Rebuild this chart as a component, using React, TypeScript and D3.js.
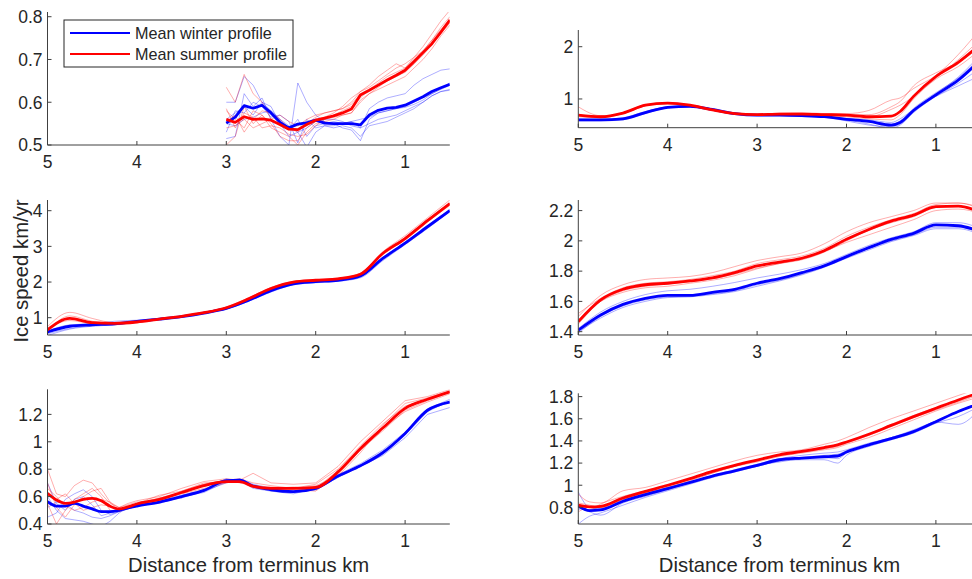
import React from 'react';
import * as d3 from 'd3';

// ---------- Data ----------
const xTicks = [5, 4, 3, 2, 1];

// Panel A (top-left)
const distA = [3.0, 2.9, 2.8, 2.7, 2.6, 2.5, 2.4, 2.3, 2.2, 2.1, 2.0, 1.9, 1.8, 1.7, 1.6, 1.5, 1.4, 1.3, 1.2, 1.1, 1.0, 0.9, 0.8, 0.7, 0.6, 0.5];
const winterA = [0.551, 0.565, 0.592, 0.586, 0.593, 0.575, 0.553, 0.540, 0.549, 0.552, 0.558, 0.551, 0.550, 0.550, 0.550, 0.547, 0.570, 0.581, 0.586, 0.588, 0.593, 0.603, 0.613, 0.625, 0.634, 0.642];
const summerA = [0.560, 0.553, 0.566, 0.560, 0.561, 0.558, 0.548, 0.537, 0.536, 0.548, 0.558, 0.563, 0.568, 0.575, 0.584, 0.617, 0.628, 0.640, 0.652, 0.663, 0.675, 0.695, 0.716, 0.737, 0.764, 0.792];
const thinWinterA = [
  [0.600, 0.600, 0.660, 0.640, 0.600, 0.580, 0.560, 0.545, 0.530, 0.540, 0.555, 0.560, 0.560, 0.555, 0.545, 0.540, 0.585, 0.600, 0.610, 0.615, 0.620, 0.640, 0.655, 0.665, 0.675, 0.678],
  [0.515, 0.520, 0.620, 0.590, 0.610, 0.560, 0.520, 0.500, 0.645, 0.600, 0.570, 0.555, 0.550, 0.540, 0.535, 0.510, 0.560, 0.575, 0.580, 0.585, 0.588, 0.595, 0.605, 0.620, 0.630, 0.640],
  [0.530, 0.580, 0.575, 0.600, 0.590, 0.565, 0.570, 0.555, 0.505, 0.560, 0.540, 0.545, 0.545, 0.550, 0.555, 0.540, 0.550, 0.560, 0.565, 0.570, 0.580, 0.590, 0.600, 0.615, 0.625, 0.630],
  [0.560, 0.575, 0.590, 0.570, 0.600, 0.590, 0.550, 0.520, 0.530, 0.495, 0.530, 0.545, 0.540, 0.545, 0.540, 0.520, 0.545, 0.550, 0.555, 0.565, 0.575, 0.585, 0.600, 0.615, 0.625, 0.628],
  [0.550, 0.545, 0.560, 0.565, 0.575, 0.580, 0.560, 0.535, 0.560, 0.520, 0.545, 0.550, 0.555, 0.550, 0.555, 0.560, 0.565, 0.575, 0.580, 0.585, 0.590, 0.600, 0.610, 0.620, 0.632, 0.645],
];
const thinSummerA = [
  [0.635, 0.600, 0.665, 0.620, 0.600, 0.560, 0.545, 0.540, 0.530, 0.550, 0.565, 0.575, 0.580, 0.585, 0.600, 0.625, 0.640, 0.660, 0.675, 0.690, 0.680, 0.705, 0.730, 0.760, 0.790, 0.815],
  [0.580, 0.560, 0.540, 0.580, 0.570, 0.550, 0.520, 0.510, 0.510, 0.540, 0.555, 0.560, 0.570, 0.580, 0.590, 0.610, 0.630, 0.645, 0.660, 0.670, 0.680, 0.700, 0.720, 0.745, 0.770, 0.795],
  [0.500, 0.520, 0.590, 0.550, 0.570, 0.540, 0.530, 0.520, 0.500, 0.530, 0.550, 0.555, 0.560, 0.570, 0.575, 0.600, 0.620, 0.630, 0.640, 0.650, 0.660, 0.680, 0.700, 0.725, 0.755, 0.780],
  [0.555, 0.570, 0.530, 0.560, 0.580, 0.575, 0.560, 0.540, 0.545, 0.560, 0.570, 0.575, 0.580, 0.585, 0.595, 0.620, 0.630, 0.640, 0.650, 0.660, 0.670, 0.690, 0.715, 0.735, 0.760, 0.785],
  [0.540, 0.545, 0.560, 0.540, 0.550, 0.560, 0.570, 0.555, 0.545, 0.555, 0.560, 0.565, 0.575, 0.590, 0.610, 0.625, 0.635, 0.650, 0.665, 0.680, 0.690, 0.705, 0.720, 0.745, 0.775, 0.800],
  [0.585, 0.540, 0.575, 0.565, 0.540, 0.545, 0.540, 0.525, 0.520, 0.525, 0.545, 0.560, 0.565, 0.570, 0.575, 0.605, 0.620, 0.635, 0.650, 0.660, 0.672, 0.690, 0.710, 0.735, 0.762, 0.790],
];

// Shared quarter-km grid
const distQ = [5, 4.75, 4.5, 4.25, 4, 3.75, 3.5, 3.25, 3, 2.75, 2.5, 2.25, 2, 1.75, 1.5, 1.25, 1, 0.75, 0.5];

// Panel B (top-right)
const distB = [5, 4.75, 4.5, 4.25, 4, 3.75, 3.5, 3.25, 3, 2.75, 2.5, 2.25, 2, 1.75, 1.5, 1.4, 1.25, 1, 0.75, 0.5];
const winterB = [0.60, 0.60, 0.62, 0.74, 0.84, 0.86, 0.80, 0.72, 0.69, 0.69, 0.68, 0.66, 0.61, 0.57, 0.50, 0.55, 0.78, 1.08, 1.36, 1.75];
const summerB = [0.69, 0.66, 0.73, 0.88, 0.92, 0.88, 0.79, 0.72, 0.70, 0.71, 0.71, 0.70, 0.69, 0.66, 0.67, 0.76, 1.05, 1.43, 1.70, 2.05];
const thinWinterB = [
  [0.58, 0.58, 0.60, 0.72, 0.83, 0.85, 0.80, 0.72, 0.69, 0.69, 0.68, 0.65, 0.60, 0.52, 0.44, 0.50, 0.74, 1.05, 1.30, 1.60],
  [0.62, 0.61, 0.64, 0.76, 0.85, 0.87, 0.81, 0.73, 0.70, 0.70, 0.68, 0.67, 0.62, 0.58, 0.52, 0.58, 0.82, 1.12, 1.40, 1.80],
  [0.60, 0.59, 0.61, 0.73, 0.84, 0.86, 0.80, 0.72, 0.69, 0.69, 0.68, 0.66, 0.63, 0.60, 0.55, 0.62, 0.80, 1.05, 1.25, 1.45],
  [0.59, 0.60, 0.63, 0.75, 0.85, 0.86, 0.79, 0.71, 0.68, 0.68, 0.67, 0.65, 0.58, 0.50, 0.47, 0.52, 0.76, 1.10, 1.42, 1.85],
];
const thinSummerB = [
  [0.85, 0.68, 0.72, 0.87, 0.92, 0.89, 0.80, 0.73, 0.71, 0.73, 0.74, 0.72, 0.72, 0.78, 0.98, 1.02, 1.20, 1.45, 1.85, 2.35],
  [0.70, 0.65, 0.74, 0.89, 0.93, 0.88, 0.79, 0.72, 0.70, 0.71, 0.71, 0.70, 0.68, 0.66, 0.80, 0.88, 1.05, 1.40, 1.75, 2.15],
  [0.66, 0.64, 0.72, 0.87, 0.91, 0.87, 0.78, 0.71, 0.69, 0.70, 0.70, 0.69, 0.66, 0.62, 0.60, 0.70, 1.00, 1.38, 1.62, 1.95],
  [0.68, 0.67, 0.73, 0.88, 0.92, 0.88, 0.79, 0.72, 0.70, 0.71, 0.72, 0.71, 0.70, 0.70, 0.85, 0.95, 1.25, 1.50, 1.70, 2.00],
];

// Panel C (middle-left)
const winterC = [0.60, 0.76, 0.80, 0.83, 0.90, 0.96, 1.03, 1.13, 1.26, 1.49, 1.76, 1.95, 2.01, 2.05, 2.17, 2.66, 3.09, 3.55, 4.00];
const summerC = [0.66, 0.98, 0.86, 0.84, 0.88, 0.96, 1.04, 1.14, 1.28, 1.53, 1.82, 2.00, 2.05, 2.09, 2.22, 2.80, 3.22, 3.72, 4.20];
const thinWinterC = [
  [0.55, 0.70, 0.78, 0.82, 0.92, 0.97, 1.02, 1.12, 1.24, 1.46, 1.72, 1.92, 1.98, 2.02, 2.12, 2.60, 3.05, 3.50, 3.98],
  [0.62, 0.80, 0.83, 0.90, 0.93, 0.95, 1.03, 1.14, 1.27, 1.50, 1.78, 1.96, 2.02, 2.06, 2.18, 2.68, 3.12, 3.58, 4.04],
  [0.50, 0.68, 0.76, 0.80, 0.88, 0.96, 1.04, 1.13, 1.25, 1.48, 1.75, 1.94, 2.00, 2.04, 2.15, 2.64, 3.10, 3.54, 4.02],
];
const thinSummerC = [
  [0.75, 1.15, 0.98, 0.86, 0.88, 0.97, 1.05, 1.15, 1.30, 1.56, 1.85, 2.02, 2.07, 2.11, 2.25, 2.85, 3.30, 3.80, 4.30],
  [0.62, 1.05, 0.90, 0.84, 0.87, 0.95, 1.03, 1.13, 1.26, 1.51, 1.80, 1.98, 2.04, 2.08, 2.20, 2.78, 3.18, 3.68, 4.15],
  [0.70, 0.92, 0.83, 0.80, 0.88, 0.96, 1.04, 1.14, 1.28, 1.55, 1.84, 2.01, 2.06, 2.10, 2.24, 2.82, 3.25, 3.75, 4.22],
];

// Panel D (middle-right)
const winterD = [1.41, 1.51, 1.58, 1.62, 1.64, 1.64, 1.66, 1.68, 1.72, 1.75, 1.79, 1.835, 1.896, 1.955, 2.01, 2.05, 2.105, 2.10, 2.06];
const summerD = [1.466, 1.61, 1.68, 1.71, 1.72, 1.735, 1.755, 1.79, 1.834, 1.86, 1.885, 1.935, 2.01, 2.075, 2.13, 2.17, 2.226, 2.23, 2.19];
const thinWinterD = [
  [1.42, 1.53, 1.60, 1.645, 1.67, 1.68, 1.70, 1.725, 1.755, 1.78, 1.81, 1.85, 1.91, 1.97, 2.02, 2.06, 2.12, 2.12, 2.08],
  [1.39, 1.50, 1.57, 1.61, 1.63, 1.635, 1.65, 1.67, 1.71, 1.74, 1.78, 1.83, 1.89, 1.95, 2.00, 2.04, 2.09, 2.09, 2.05],
  [1.40, 1.49, 1.56, 1.60, 1.625, 1.63, 1.645, 1.665, 1.70, 1.735, 1.775, 1.825, 1.885, 1.94, 1.995, 2.035, 2.08, 2.08, 2.04],
];
const thinSummerD = [
  [1.50, 1.64, 1.71, 1.745, 1.755, 1.765, 1.79, 1.83, 1.87, 1.895, 1.92, 1.98, 2.06, 2.12, 2.16, 2.20, 2.25, 2.25, 2.21],
  [1.45, 1.60, 1.67, 1.70, 1.715, 1.73, 1.75, 1.78, 1.82, 1.85, 1.875, 1.925, 2.00, 2.07, 2.12, 2.16, 2.22, 2.23, 2.19],
  [1.48, 1.60, 1.66, 1.69, 1.70, 1.72, 1.74, 1.77, 1.815, 1.85, 1.88, 1.93, 1.99, 2.04, 2.09, 2.14, 2.20, 2.21, 2.18],
  [1.52, 1.62, 1.69, 1.72, 1.73, 1.745, 1.77, 1.80, 1.85, 1.875, 1.90, 1.95, 2.03, 2.09, 2.14, 2.18, 2.24, 2.25, 2.22],
];

// Panel E (bottom-left)
const distE = [5, 4.9, 4.8, 4.7, 4.6, 4.5, 4.4, 4.3, 4.2, 4.1, 4.0, 3.75, 3.5, 3.25, 3.0, 2.85, 2.7, 2.5, 2.25, 2.0, 1.75, 1.5, 1.25, 1.0, 0.75, 0.5];
const winterE = [0.563, 0.531, 0.531, 0.55, 0.531, 0.51, 0.49, 0.49, 0.50, 0.517, 0.531, 0.56, 0.60, 0.645, 0.716, 0.72, 0.677, 0.65, 0.636, 0.66, 0.75, 0.825, 0.92, 1.061, 1.23, 1.29];
const summerE = [0.624, 0.575, 0.551, 0.56, 0.58, 0.587, 0.57, 0.53, 0.51, 0.525, 0.546, 0.58, 0.63, 0.68, 0.709, 0.709, 0.675, 0.66, 0.66, 0.667, 0.78, 0.95, 1.10, 1.244, 1.31, 1.365];
const thinWinterE = [
  [0.70, 0.55, 0.50, 0.58, 0.60, 0.54, 0.46, 0.48, 0.50, 0.52, 0.54, 0.57, 0.61, 0.65, 0.73, 0.71, 0.68, 0.65, 0.63, 0.65, 0.74, 0.82, 0.92, 1.05, 1.22, 1.30],
  [0.45, 0.48, 0.58, 0.62, 0.65, 0.60, 0.50, 0.47, 0.49, 0.51, 0.53, 0.56, 0.59, 0.64, 0.70, 0.72, 0.66, 0.64, 0.62, 0.66, 0.76, 0.84, 0.94, 1.07, 1.24, 1.31],
  [0.60, 0.50, 0.44, 0.43, 0.42, 0.40, 0.38, 0.42, 0.48, 0.52, 0.54, 0.55, 0.60, 0.63, 0.71, 0.73, 0.69, 0.66, 0.64, 0.67, 0.75, 0.82, 0.90, 1.03, 1.20, 1.25],
  [0.52, 0.56, 0.55, 0.50, 0.48, 0.45, 0.44, 0.46, 0.49, 0.51, 0.53, 0.56, 0.60, 0.64, 0.72, 0.71, 0.68, 0.65, 0.63, 0.65, 0.74, 0.83, 0.93, 1.06, 1.23, 1.29],
];
const thinSummerE = [
  [0.80, 0.62, 0.60, 0.68, 0.72, 0.70, 0.62, 0.55, 0.52, 0.55, 0.57, 0.60, 0.66, 0.71, 0.73, 0.72, 0.77, 0.70, 0.69, 0.70, 0.82, 1.00, 1.15, 1.30, 1.33, 1.38],
  [0.55, 0.40, 0.50, 0.58, 0.62, 0.66, 0.60, 0.50, 0.49, 0.52, 0.55, 0.59, 0.63, 0.69, 0.72, 0.70, 0.68, 0.67, 0.66, 0.68, 0.75, 0.92, 1.12, 1.28, 1.32, 1.37],
  [0.66, 0.60, 0.53, 0.50, 0.52, 0.56, 0.58, 0.56, 0.52, 0.54, 0.56, 0.57, 0.64, 0.70, 0.71, 0.71, 0.68, 0.66, 0.67, 0.66, 0.79, 0.96, 1.10, 1.22, 1.29, 1.35],
  [0.62, 0.58, 0.62, 0.55, 0.50, 0.52, 0.54, 0.53, 0.51, 0.53, 0.54, 0.58, 0.62, 0.66, 0.70, 0.72, 0.67, 0.65, 0.65, 0.64, 0.76, 0.94, 1.08, 1.23, 1.30, 1.36],
  [0.70, 0.52, 0.45, 0.54, 0.60, 0.64, 0.66, 0.56, 0.50, 0.52, 0.55, 0.61, 0.64, 0.69, 0.72, 0.73, 0.70, 0.68, 0.66, 0.69, 0.80, 0.97, 1.13, 1.26, 1.31, 1.37],
];

// Panel F (bottom-right)
const distF = [5, 4.875, 4.75, 4.5, 4.25, 4.0, 3.75, 3.5, 3.25, 3.0, 2.75, 2.5, 2.25, 2.1, 2.0, 1.75, 1.5, 1.25, 1.0, 0.75, 0.5];
const winterF = [0.812, 0.77, 0.777, 0.855, 0.915, 0.97, 1.025, 1.083, 1.13, 1.18, 1.23, 1.245, 1.257, 1.264, 1.30, 1.365, 1.42, 1.484, 1.574, 1.665, 1.74];
const summerF = [0.82, 0.805, 0.81, 0.885, 0.945, 1.0, 1.06, 1.125, 1.18, 1.227, 1.275, 1.305, 1.34, 1.365, 1.39, 1.46, 1.54, 1.619, 1.695, 1.77, 1.84];
const thinWinterF = [
  [0.94, 0.80, 0.79, 0.87, 0.93, 0.98, 1.03, 1.09, 1.14, 1.19, 1.24, 1.27, 1.29, 1.30, 1.32, 1.38, 1.43, 1.50, 1.58, 1.66, 1.75],
  [0.65, 0.72, 0.75, 0.82, 0.89, 0.95, 1.01, 1.07, 1.12, 1.17, 1.22, 1.23, 1.23, 1.20, 1.27, 1.35, 1.41, 1.47, 1.56, 1.62, 1.72],
  [0.80, 0.76, 0.73, 0.84, 0.90, 0.96, 1.02, 1.08, 1.13, 1.18, 1.21, 1.24, 1.25, 1.24, 1.29, 1.36, 1.42, 1.49, 1.57, 1.55, 1.70],
  [0.78, 0.80, 0.78, 0.85, 0.92, 0.97, 1.02, 1.08, 1.13, 1.17, 1.22, 1.25, 1.27, 1.28, 1.31, 1.37, 1.43, 1.49, 1.58, 1.67, 1.75],
];
const thinSummerF = [
  [0.92, 0.85, 0.84, 0.95, 0.98, 1.04, 1.10, 1.16, 1.22, 1.27, 1.30, 1.32, 1.37, 1.40, 1.43, 1.52, 1.60, 1.67, 1.74, 1.81, 1.88],
  [0.76, 0.80, 0.80, 0.87, 0.93, 0.98, 1.04, 1.11, 1.17, 1.22, 1.27, 1.30, 1.33, 1.35, 1.38, 1.45, 1.53, 1.61, 1.68, 1.75, 1.82],
  [0.80, 0.78, 0.83, 0.90, 0.95, 1.00, 1.06, 1.12, 1.18, 1.23, 1.27, 1.30, 1.33, 1.36, 1.39, 1.46, 1.55, 1.63, 1.70, 1.76, 1.83],
  [0.84, 0.82, 0.80, 0.88, 0.94, 0.99, 1.05, 1.11, 1.17, 1.21, 1.26, 1.29, 1.32, 1.34, 1.37, 1.43, 1.51, 1.59, 1.67, 1.74, 1.80],
];

const legendLabels = ['Mean winter profile', 'Mean summer profile'];
const yAxisLabel = 'Ice speed km/yr';
const xAxisLabel = 'Distance from terminus km';

// ---------- Styling ----------
const BLUE = '#0000ff';
const RED = '#ff0000';
const AXIS = '#404040';
const TEXT = '#262626';
const FONT = '"Liberation Sans", Arial, Helvetica, sans-serif';
const TICK_FS = 17.5;
const LABEL_FS = 20.3;

type PanelProps = {
  id: string;
  left: number;
  right: number;
  top: number;
  bottom: number;
  yDomain: [number, number];
  yTicks: number[];
  dist: number[];
  winter: number[];
  summer: number[];
  thinW: number[][];
  thinS: number[][];
  smooth: boolean;
  thinSmooth: boolean;
  xlabel?: boolean;
};

function Panel(p: PanelProps) {
  const x = d3.scaleLinear().domain([5, 0.5]).range([p.left, p.right]);
  const y = d3.scaleLinear().domain(p.yDomain).range([p.bottom, p.top]);
  const mk = (sm: boolean) =>
    d3
      .line<number>()
      .x((_, i) => x(p.dist[i]))
      .y((v) => y(v))
      .curve(sm ? d3.curveMonotoneX : d3.curveLinear);
  const thick = mk(p.smooth);
  const thin = mk(p.thinSmooth);
  const clipId = `clip-${p.id}`;
  return (
    <g>
      <defs>
        <clipPath id={clipId}>
          <rect x={p.left} y={p.top} width={p.right - p.left} height={p.bottom - p.top} />
        </clipPath>
      </defs>
      <g clipPath={`url(#${clipId})`} fill="none">
        {p.thinW.map((s, i) => (
          <path key={'tw' + i} d={thin(s) || ''} stroke={BLUE} strokeOpacity={0.32} strokeWidth={1} />
        ))}
        {p.thinS.map((s, i) => (
          <path key={'ts' + i} d={thin(s) || ''} stroke={RED} strokeOpacity={0.32} strokeWidth={1} />
        ))}
        <path d={thick(p.winter) || ''} stroke={BLUE} strokeWidth={2.8} strokeLinejoin="round" />
        <path d={thick(p.summer) || ''} stroke={RED} strokeWidth={2.8} strokeLinejoin="round" />
      </g>
      <line x1={p.left} x2={p.left} y1={p.top} y2={p.bottom} stroke={AXIS} strokeWidth={1} />
      <line x1={p.left} x2={p.right} y1={p.bottom} y2={p.bottom} stroke={AXIS} strokeWidth={1} />
      {p.yTicks.map((t) => (
        <g key={'yt' + t}>
          <line x1={p.left} x2={p.left + 4} y1={y(t)} y2={y(t)} stroke={AXIS} />
          <text x={p.left - 5} y={y(t)} dy="0.36em" textAnchor="end" fontSize={TICK_FS} fill={TEXT} fontFamily={FONT}>
            {String(t)}
          </text>
        </g>
      ))}
      {xTicks.map((t) => (
        <g key={'xt' + t}>
          <line x1={x(t)} x2={x(t)} y1={p.bottom} y2={p.bottom - 4} stroke={AXIS} />
          <text x={x(t)} y={p.bottom + 23} textAnchor="middle" fontSize={TICK_FS} fill={TEXT} fontFamily={FONT}>
            {String(t)}
          </text>
        </g>
      ))}
      {p.xlabel && (
        <text x={(p.left + p.right) / 2} y={572} textAnchor="middle" fontSize={LABEL_FS} fill={TEXT} fontFamily={FONT}>
          {xAxisLabel}
        </text>
      )}
    </g>
  );
}

export default function App() {
  const L = [47.5, 449.8];
  const R = [578.3, 980.6];
  return (
    <svg width={972} height={579} viewBox="0 0 972 579" style={{ position: 'absolute', left: 0, top: 0, background: '#fff' }}>
      <rect x={0} y={0} width={972} height={579} fill="#fff" />
      <Panel id="a" left={L[0]} right={L[1]} top={12} bottom={145} yDomain={[0.5, 0.811]} yTicks={[0.5, 0.6, 0.7, 0.8]}
        dist={distA} winter={winterA} summer={summerA} thinW={thinWinterA} thinS={thinSummerA} smooth={false} thinSmooth={false} />
      <Panel id="b" left={R[0]} right={R[1]} top={30} bottom={127.7} yDomain={[0.45, 2.32]} yTicks={[1, 2]}
        dist={distB} winter={winterB} summer={summerB} thinW={thinWinterB} thinS={thinSummerB} smooth={true} thinSmooth={true} />
      <Panel id="c" left={L[0]} right={L[1]} top={200} bottom={335} yDomain={[0.515, 4.3]} yTicks={[1, 2, 3, 4]}
        dist={distQ} winter={winterC} summer={summerC} thinW={thinWinterC} thinS={thinSummerC} smooth={true} thinSmooth={true} />
      <Panel id="d" left={R[0]} right={R[1]} top={200} bottom={335} yDomain={[1.378, 2.27]} yTicks={[1.4, 1.6, 1.8, 2, 2.2]}
        dist={distQ} winter={winterD} summer={summerD} thinW={thinWinterD} thinS={thinSummerD} smooth={true} thinSmooth={true} />
      <Panel id="e" left={L[0]} right={L[1]} top={389.3} bottom={524} yDomain={[0.4, 1.383]} yTicks={[0.4, 0.6, 0.8, 1, 1.2]}
        dist={distE} winter={winterE} summer={summerE} thinW={thinWinterE} thinS={thinSummerE} smooth={true} thinSmooth={false} xlabel />
      <Panel id="f" left={R[0]} right={R[1]} top={393.3} bottom={524} yDomain={[0.65, 1.83]} yTicks={[0.8, 1, 1.2, 1.4, 1.6, 1.8]}
        dist={distF} winter={winterF} summer={summerF} thinW={thinWinterF} thinS={thinSummerF} smooth={true} thinSmooth={true} xlabel />

      <text transform="translate(28,271) rotate(-90)" textAnchor="middle" fontSize={LABEL_FS} fill={TEXT} fontFamily={FONT}>
        {yAxisLabel}
      </text>

      <g fontFamily={FONT} fontSize={16.2} fill={TEXT}>
        <rect x={64} y={20} width={229} height={47} fill="#fff" stroke={TEXT} strokeWidth={1} />
        <line x1={70} x2={130} y1={33} y2={33} stroke={BLUE} strokeWidth={2} />
        <text x={135} y={38.5}>{legendLabels[0]}</text>
        <line x1={70} x2={130} y1={54} y2={54} stroke={RED} strokeWidth={2} />
        <text x={135} y={59.5}>{legendLabels[1]}</text>
      </g>
    </svg>
  );
}
